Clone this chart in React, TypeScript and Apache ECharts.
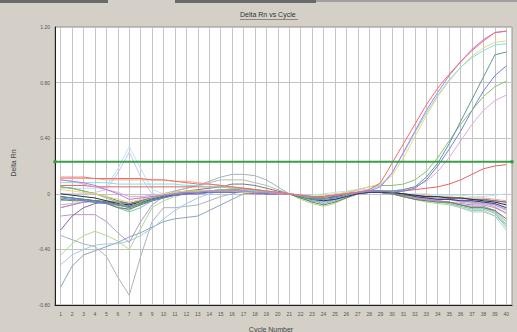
import React, { useEffect, useRef } from "react";
import * as echarts from "echarts";

const cycles = [1,2,3,4,5,6,7,8,9,10,11,12,13,14,15,16,17,18,19,20,21,22,23,24,25,26,27,28,29,30,31,32,33,34,35,36,37,38,39,40];
const threshold = 0.23;

const red = [0.12,0.12,0.12,0.11,0.11,0.11,0.11,0.11,0.1,0.1,0.09,0.08,0.07,0.07,0.06,0.05,0.04,0.03,0.02,0.01,0.0,-0.01,-0.02,-0.02,-0.01,0.0,0.01,0.03,0.08,0.22,0.36,0.5,0.64,0.76,0.86,0.95,1.03,1.1,1.16,1.17];
const violet = [0.1,0.09,0.08,0.06,0.03,0.0,-0.04,-0.03,-0.02,-0.01,0.0,0.01,0.01,0.02,0.02,0.02,0.02,0.01,0.01,0.0,0.0,-0.01,-0.02,-0.02,-0.01,0.0,0.01,0.02,0.05,0.15,0.3,0.45,0.6,0.73,0.85,0.95,1.04,1.11,1.16,1.17];
const cyan = [0.08,0.08,0.08,0.08,0.08,0.07,0.07,0.07,0.07,0.07,0.07,0.06,0.06,0.05,0.05,0.04,0.03,0.02,0.02,0.01,0.0,-0.01,-0.02,-0.02,-0.01,0.0,0.01,0.03,0.06,0.15,0.29,0.44,0.58,0.71,0.82,0.91,0.98,1.03,1.07,1.08];
const gold = [0.03,0.02,0.01,0.0,-0.02,-0.04,-0.06,-0.04,-0.02,0.0,0.01,0.02,0.02,0.02,0.02,0.02,0.01,0.01,0.01,0.0,0.0,-0.01,-0.02,-0.01,0.0,0.01,0.03,0.05,0.07,0.13,0.26,0.41,0.56,0.7,0.81,0.91,0.99,1.05,1.09,1.1];
const teal = [-0.02,-0.03,-0.04,-0.05,-0.06,-0.08,-0.1,-0.07,-0.04,-0.02,0.0,0.01,0.01,0.02,0.02,0.02,0.01,0.01,0.0,0.0,0.0,-0.02,-0.04,-0.04,-0.03,-0.01,0.01,0.02,0.02,0.02,0.03,0.05,0.12,0.22,0.36,0.52,0.68,0.84,1.0,1.02];
const green = [0.05,0.04,0.02,0.0,-0.03,-0.06,-0.1,-0.06,-0.03,-0.01,0.0,0.01,0.02,0.02,0.03,0.03,0.02,0.02,0.01,0.0,0.0,-0.02,-0.03,-0.03,-0.01,0.01,0.03,0.05,0.06,0.06,0.07,0.1,0.16,0.26,0.38,0.5,0.6,0.7,0.77,0.81];
const blue = [-0.03,-0.04,-0.05,-0.06,-0.07,-0.08,-0.09,-0.07,-0.05,-0.03,-0.01,0.0,0.0,0.01,0.01,0.01,0.01,0.01,0.0,0.0,0.0,-0.02,-0.03,-0.03,-0.02,0.0,0.01,0.02,0.02,0.01,0.02,0.04,0.1,0.2,0.32,0.45,0.6,0.74,0.85,0.92];
const plum = [0.1,0.09,0.07,0.05,0.03,0.01,-0.02,-0.02,-0.01,0.0,0.0,0.01,0.01,0.02,0.02,0.02,0.02,0.01,0.01,0.0,0.0,-0.01,-0.02,-0.02,-0.01,0.0,0.01,0.02,0.02,0.02,0.03,0.05,0.09,0.16,0.26,0.38,0.5,0.6,0.67,0.71];
const crimson = [0.06,0.06,0.06,0.05,0.05,0.05,0.05,0.05,0.05,0.05,0.05,0.05,0.05,0.05,0.05,0.04,0.04,0.03,0.02,0.01,0.0,-0.01,-0.02,-0.02,-0.01,0.0,0.01,0.02,0.02,0.02,0.02,0.03,0.04,0.05,0.07,0.1,0.14,0.18,0.2,0.21];
const black = [0.0,-0.01,-0.02,-0.03,-0.05,-0.07,-0.08,-0.06,-0.04,-0.02,0.0,0.01,0.01,0.02,0.02,0.02,0.01,0.01,0.01,0.0,0.0,-0.02,-0.03,-0.03,-0.02,0.0,0.01,0.02,0.02,0.01,0.0,-0.01,-0.02,-0.02,-0.03,-0.03,-0.04,-0.05,-0.06,-0.08];
const navy = [-0.02,-0.03,-0.04,-0.05,-0.06,-0.08,-0.09,-0.07,-0.04,-0.02,-0.01,0.0,0.01,0.01,0.01,0.01,0.01,0.01,0.0,0.0,0.0,-0.02,-0.04,-0.05,-0.04,-0.02,0.0,0.01,0.01,0.01,0.0,-0.02,-0.03,-0.04,-0.04,-0.05,-0.05,-0.06,-0.07,-0.1];
const olive = [-0.04,-0.05,-0.05,-0.06,-0.07,-0.1,-0.11,-0.08,-0.05,-0.03,-0.01,0.0,0.0,0.01,0.02,0.03,0.03,0.02,0.01,0.0,0.0,-0.03,-0.06,-0.08,-0.06,-0.03,0.0,0.01,0.01,0.0,-0.02,-0.04,-0.05,-0.06,-0.06,-0.08,-0.1,-0.1,-0.12,-0.18];
const yellowGreen = [-0.44,-0.36,-0.3,-0.27,-0.3,-0.34,-0.4,-0.25,-0.1,-0.05,-0.02,0.0,0.01,0.02,0.03,0.03,0.02,0.02,0.01,0.0,0.0,-0.04,-0.07,-0.09,-0.07,-0.03,0.0,0.01,0.01,0.0,-0.02,-0.04,-0.06,-0.07,-0.08,-0.1,-0.13,-0.13,-0.16,-0.22];
const lightBlue = [-0.51,-0.44,-0.4,-0.37,-0.36,-0.36,-0.34,-0.3,-0.25,-0.18,-0.12,-0.07,-0.03,0.0,0.02,0.03,0.03,0.02,0.01,0.0,0.0,-0.03,-0.05,-0.06,-0.05,-0.02,0.01,0.02,0.02,0.0,-0.02,-0.03,-0.04,-0.05,-0.07,-0.1,-0.12,-0.12,-0.16,-0.26];
const steelBlue = [-0.67,-0.52,-0.44,-0.41,-0.38,-0.35,-0.31,-0.28,-0.24,-0.2,-0.18,-0.17,-0.16,-0.12,-0.08,-0.04,0.0,0.01,0.01,0.0,0.0,-0.02,-0.04,-0.05,-0.04,-0.02,0.0,0.01,0.01,0.0,-0.01,-0.03,-0.04,-0.05,-0.06,-0.08,-0.09,-0.09,-0.12,-0.2];
const grayDip = [-0.3,-0.33,-0.36,-0.38,-0.45,-0.6,-0.73,-0.45,-0.2,-0.1,-0.1,-0.09,-0.08,-0.05,-0.02,0.0,0.02,0.03,0.02,0.01,0.0,-0.02,-0.03,-0.03,-0.02,0.0,0.01,0.02,0.02,0.01,0.0,-0.01,-0.02,-0.03,-0.04,-0.05,-0.06,-0.06,-0.08,-0.12];
const darkPurple = [-0.26,-0.16,-0.1,-0.07,-0.06,-0.06,-0.07,-0.05,-0.03,-0.01,0.0,0.01,0.01,0.01,0.01,0.01,0.01,0.0,0.0,0.0,0.0,-0.02,-0.03,-0.03,-0.02,0.0,0.01,0.02,0.01,0.0,-0.01,-0.01,-0.02,-0.02,-0.03,-0.03,-0.04,-0.04,-0.05,-0.06];
const purple = [-0.16,-0.15,-0.15,-0.15,-0.2,-0.28,-0.35,-0.2,-0.08,-0.02,0.0,0.01,0.01,0.02,0.02,0.02,0.02,0.01,0.01,0.0,0.0,-0.02,-0.03,-0.04,-0.03,-0.01,0.01,0.02,0.01,0.0,-0.01,-0.02,-0.03,-0.04,-0.04,-0.05,-0.06,-0.07,-0.08,-0.11];
const lightCyan = [0.04,0.04,0.04,0.04,0.05,0.18,0.34,0.18,0.03,0.0,0.0,0.01,0.01,0.02,0.03,0.03,0.02,0.02,0.01,0.0,0.0,-0.01,-0.01,0.0,0.01,0.02,0.03,0.03,0.02,0.01,0.0,0.0,0.0,-0.01,-0.01,-0.01,-0.02,-0.02,-0.01,0.0];
const lavender = [0.0,0.0,0.0,0.01,0.03,0.15,0.3,0.12,0.0,-0.01,0.0,0.01,0.01,0.02,0.02,0.02,0.02,0.01,0.01,0.0,0.0,-0.01,-0.02,-0.02,-0.01,0.01,0.02,0.02,0.01,0.0,-0.01,-0.01,-0.02,-0.03,-0.03,-0.04,-0.05,-0.05,-0.06,-0.07];
const grayBump = [-0.1,-0.08,-0.06,-0.05,-0.05,-0.06,-0.08,-0.05,-0.02,0.0,0.02,0.04,0.06,0.09,0.12,0.14,0.14,0.13,0.1,0.05,0.0,-0.03,-0.05,-0.06,-0.04,-0.01,0.01,0.02,0.02,0.0,-0.02,-0.03,-0.04,-0.05,-0.06,-0.08,-0.1,-0.1,-0.13,-0.22];
const grayBump2 = [-0.08,-0.07,-0.06,-0.06,-0.07,-0.09,-0.12,-0.07,-0.03,0.0,0.02,0.04,0.06,0.08,0.1,0.1,0.1,0.08,0.06,0.03,0.0,-0.02,-0.03,-0.04,-0.03,-0.01,0.01,0.02,0.02,0.01,-0.01,-0.02,-0.03,-0.03,-0.04,-0.06,-0.07,-0.07,-0.09,-0.14];
const darkGray = [0.05,0.04,0.02,0.0,-0.02,-0.05,-0.07,-0.05,-0.03,-0.01,0.01,0.02,0.03,0.04,0.05,0.07,0.07,0.06,0.04,0.02,0.0,-0.02,-0.03,-0.03,-0.02,0.0,0.01,0.02,0.01,0.0,-0.01,-0.01,-0.02,-0.02,-0.03,-0.03,-0.04,-0.04,-0.05,-0.06];
const salmon = [0.11,0.11,0.11,0.11,0.1,0.1,0.1,0.1,0.1,0.1,0.09,0.09,0.08,0.07,0.06,0.05,0.04,0.03,0.02,0.01,0.0,-0.01,-0.02,-0.02,-0.01,0.0,0.01,0.02,0.02,0.01,0.0,-0.01,-0.01,-0.02,-0.02,-0.03,-0.03,-0.03,-0.04,-0.05];
const magenta = [-0.1,-0.08,-0.06,-0.05,-0.06,-0.08,-0.1,-0.07,-0.04,-0.02,0.0,0.01,0.01,0.01,0.02,0.02,0.01,0.01,0.0,0.0,0.0,-0.02,-0.04,-0.05,-0.04,-0.02,0.0,0.01,0.01,0.0,-0.02,-0.03,-0.04,-0.05,-0.06,-0.07,-0.08,-0.08,-0.1,-0.14];
const aqua = [-0.05,-0.04,-0.04,-0.05,-0.07,-0.1,-0.13,-0.1,-0.05,-0.02,0.0,0.01,0.02,0.02,0.03,0.03,0.02,0.02,0.01,0.0,0.0,-0.03,-0.05,-0.07,-0.05,-0.02,0.0,0.01,0.01,0.0,-0.02,-0.04,-0.05,-0.06,-0.07,-0.09,-0.11,-0.11,-0.14,-0.24];

const wells: [string, number[], string][] = [
  ["grayDip", grayDip, "#a8b4c4"],
  ["steelBlue", steelBlue, "#8aa4be"],
  ["lightBlue", lightBlue, "#a4cce4"],
  ["yellowGreen", yellowGreen, "#b0d894"],
  ["purple", purple, "#bc98d2"],
  ["darkPurple", darkPurple, "#8a64a8"],
  ["lightCyan", lightCyan, "#b4e8f4"],
  ["lavender", lavender, "#ccc4f0"],
  ["grayBump", grayBump, "#a4b2ba"],
  ["grayBump2", grayBump2, "#b4bcb4"],
  ["darkGray", darkGray, "#7a7a7a"],
  ["salmon", salmon, "#f2aa8c"],
  ["magenta", magenta, "#d47cc6"],
  ["aqua", aqua, "#74c8ba"],
  ["olive", olive, "#6e7e50"],
  ["navy", navy, "#343494"],
  ["black", black, "#303030"],
  ["crimson", crimson, "#e46464"],
  ["plum", plum, "#dcaadc"],
  ["blue", blue, "#7080dc"],
  ["green", green, "#8cc070"],
  ["teal", teal, "#5e9898"],
  ["gold", gold, "#f2d47c"],
  ["cyan", cyan, "#7ce2e2"],
  ["violet", violet, "#b87ce2"],
  ["red", red, "#f26c6c"],
];

export default function App() {
  const ref = useRef<HTMLDivElement>(null);
  useEffect(() => {
    if (!ref.current) return;
    const chart = echarts.init(ref.current, null, { renderer: "svg" });
    const font = "Liberation Sans, Arial, sans-serif";
    const lineSeries = wells.map(([name, vals, color]) => ({
      name,
      type: "line",
      data: cycles.map((c, i) => [c, vals[i]]),
      symbol: "none",
      lineStyle: { width: 1, color },
      silent: true,
    }));
    chart.setOption({
      animation: false,
      backgroundColor: "#d4d0c8",
      textStyle: { fontFamily: font },
      grid: {
        left: 55,
        right: 5,
        top: 27,
        bottom: 27,
        show: true,
        backgroundColor: "#ffffff",
        borderColor: "#909090",
        borderWidth: 1,
      },
      graphic: [
        { type: "rect", shape: { x: 0, y: 0, width: 108, height: 3 }, style: { fill: "#6a6a6a" } },
        { type: "rect", shape: { x: 175, y: 0, width: 141, height: 3 }, style: { fill: "#6a6a6a" } },
        { type: "rect", shape: { x: 316, y: 0, width: 201, height: 2 }, style: { fill: "#a0a0a0" } },
        {
          type: "text",
          left: 240,
          top: 11,
          style: { text: "Delta Rn vs Cycle", fill: "#333", font: "7px " + font },
        },
        { type: "line", shape: { x1: 240, y1: 19.5, x2: 298, y2: 19.5 }, style: { stroke: "#555", lineWidth: 0.6 } },
        {
          type: "text",
          x: 13,
          y: 163,
          rotation: Math.PI / 2,
          style: { text: "Delta Rn", fill: "#444", font: "7px " + font, align: "center", verticalAlign: "middle" },
        },
        {
          type: "text",
          x: 271,
          y: 329,
          style: { text: "Cycle Number", fill: "#444", font: "7px " + font, align: "center", verticalAlign: "middle" },
        },
      ],
      xAxis: {
        type: "value",
        min: 0.5,
        max: 40.5,
        axisLine: { show: true, onZero: false, lineStyle: { color: "#202020", width: 1 } },
        axisTick: { show: false, customValues: cycles },
        axisLabel: { customValues: cycles, color: "#555", fontSize: 5, margin: 6 },
        splitLine: { show: true, lineStyle: { color: "#c4c4c4", width: 1 } },
      },
      yAxis: {
        type: "value",
        min: -0.8,
        max: 1.2,
        interval: 0.4,
        axisLine: { show: true, onZero: false, lineStyle: { color: "#202020", width: 1 } },
        axisTick: { show: false },
        axisLabel: {
          color: "#555",
          fontSize: 5,
          margin: 5,
          formatter: (v: number) => (Math.abs(v) < 1e-9 ? "0" : v.toFixed(2)),
        },
        splitLine: { show: true, lineStyle: { color: "#c4c4c4", width: 1 } },
      },
      series: [
        ...lineSeries,
        {
          name: "threshold",
          type: "line",
          data: [[0.5, threshold], [40.5, threshold]],
          symbol: "rect",
          symbolSize: 3,
          itemStyle: { color: "#2f9a3a" },
          lineStyle: { width: 2, color: "#3aa046" },
          silent: true,
          z: 5,
        },
      ],
    });
    return () => chart.dispose();
  }, []);
  return (
    <div
      ref={ref}
      style={{ position: "fixed", left: 0, top: 0, width: 517, height: 332 }}
    />
  );
}
